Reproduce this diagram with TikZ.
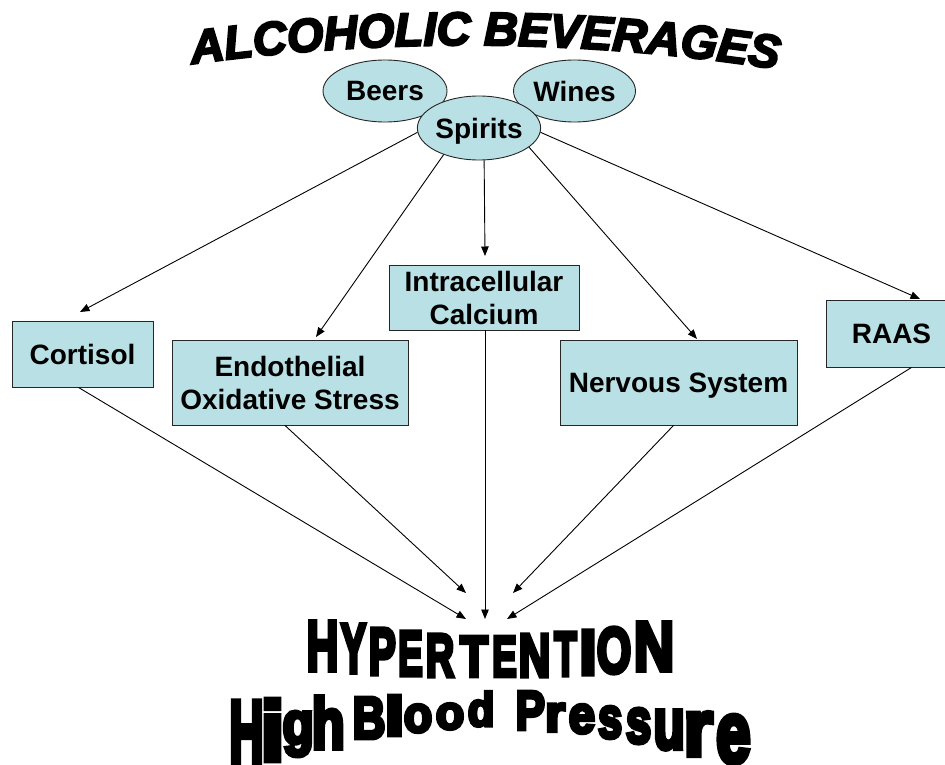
\documentclass[tikz,border=0pt]{standalone}
\usepackage{fontspec}
\usepackage{graphicx}
\setmainfont{Liberation Sans}
\newfontfamily\titlefont{Liberation Sans Bold Italic}[FakeBold=4.5]
\newfontfamily\impfont{Liberation Sans Bold}[FakeBold=7]
\usetikzlibrary{shapes.geometric,arrows.meta,decorations.text}
\definecolor{boxfill}{RGB}{185,224,228}
\newcommand\titlefmt{\titlefont\fontsize{47}{50}\selectfont}
\newcommand\inkglyph[1]{%
  \begingroup\impfont\fontsize{40}{40}\selectfont
  \setbox0=\hbox{#1}%
  \dimen0=\XeTeXglyphbounds1 \XeTeXcharglyph`#1\relax
  \dimen2=\XeTeXglyphbounds3 \XeTeXcharglyph`#1\relax
  \hbox{\kern-\dimen0\box0\kern-\dimen2}%
  \endgroup}
\def\cmpx{1.6}
\def\cmpy{1.6}
\newcommand\wl[5]{%
  \pgfmathsetmacro\wlw{#3-#2-2*\cmpx}%
  \pgfmathsetmacro\wlh{#5-#4-2*\cmpy}%
  \pgfmathsetmacro\wlx{#2+\cmpx}%
  \pgfmathsetmacro\wly{#5-\cmpy}%
  \node[inner sep=0pt, outer sep=0pt, anchor=south west] at (\wlx,\wly)
    {\resizebox*{\wlw pt}{\wlh pt}{\inkglyph{#1}}};}
\begin{document}
\begin{tikzpicture}[x=1pt,y=-1pt,
  box/.style={draw=black!85, line width=0.9pt, fill=boxfill, align=center,
    inner sep=0pt, text depth=0pt, font=\bfseries\fontsize{28}{33}\selectfont},
  ell/.style={ellipse, draw=black!85, line width=0.9pt, fill=boxfill,
    inner sep=0pt, text depth=0pt, font=\bfseries\fontsize{28}{32}\selectfont},
  arr/.style={-{Triangle[length=9.5pt,width=7.5pt]}, line width=0.9pt}]
\useasboundingbox (0,0) rectangle (945,765);
\fill[white] (0,0) rectangle (945,765);
\clip (0,0) rectangle (945,765);

% title
\path[decorate, decoration={text along path, text align=center,
  text={|\titlefmt|ALCOHOLIC BEVERAGES}}]
  (118.3,75.6) arc[start angle=-100, end angle=-79, radius=2011];

% ellipses
\node[ell, minimum width=124, minimum height=62] (beers) at (385,91) {Beers};
\node[ell, minimum width=122, minimum height=62] (wines) at (574.5,91) {Wines};
\node[ell, minimum width=122, minimum height=64] (spirits) at (479,128) {Spirits};

% boxes
\node[box, minimum width=141, minimum height=66] (cortisol) at (82.5,354) {Cortisol};
\node[box, minimum width=236, minimum height=85] (endo) at (290,382.5) {Endothelial\\Oxidative Stress};
\node[box, minimum width=190, minimum height=65] (intra) at (484,297.5) {Intracellular\\Calcium};
\node[box, minimum width=237, minimum height=85] (nerv) at (678.5,382.5) {Nervous System};
\node[box, minimum width=131, minimum height=67] (raas) at (891.5,333.5) {RAAS};

% arrow end points
\coordinate (sC) at (80,312);
\coordinate (sE) at (316,337);
\coordinate (sI) at (485,256);
\coordinate (sN) at (697,339);
\coordinate (sR) at (920,299);
\coordinate (tC) at (466,619);
\coordinate (tE) at (466,593);
\coordinate (tI) at (485,619);
\coordinate (tN) at (513,593);
\coordinate (tR) at (507,619);

\draw[arr] (spirits.184) -- (sC);
\draw[arr] (spirits.217) -- (sE);
\draw[arr] (spirits.279) -- (sI);
\draw[arr] (spirits.339) -- (sN);
\draw[arr] (spirits.356) -- (sR);

\draw[arr] ([xshift=-4]cortisol.south) -- (tC);
\draw[arr] ([xshift=-5]endo.south) -- (tE);
\draw[arr] ([xshift=1]intra.south) -- (tI);
\draw[arr] ([xshift=-5]nerv.south) -- (tN);
\draw[arr] ([xshift=20]raas.south) -- (tR);

% HYPERTENTION
\wl{H}{308}{337}{620}{672}
\wl{Y}{340}{367}{623}{674}
\wl{P}{370}{396}{627}{676}
\wl{E}{399}{423}{630}{677}
\wl{R}{427}{455}{633}{678}
\wl{T}{459}{489}{635}{678}
\wl{E}{493}{517}{635}{678}
\wl{N}{520}{549}{633}{678}
\wl{T}{553}{578}{631}{677}
\wl{I}{582}{594}{629}{676}
\wl{O}{597}{631}{626}{675}
\wl{N}{636}{672}{621}{672}

% High Blood Pressure
\wl{H}{231}{262}{700}{765}
\wl{i}{265}{280}{698}{762}
\wl{g}{283}{312}{710}{758}
\wl{h}{314}{343}{695}{750}
\wl{B}{354}{385}{696}{740}
\wl{l}{388}{401}{694}{737}
\wl{o}{404}{432}{703}{734}
\wl{o}{436}{464}{702}{731}
\wl{d}{468}{493}{690}{728}
\wl{P}{517}{545}{690}{731}
\wl{r}{547}{566}{702}{733}
\wl{e}{569}{595}{703}{735}
\wl{s}{598}{622}{705}{740}
\wl{s}{626}{651}{707}{745}
\wl{u}{655}{683}{709}{751}
\wl{r}{687}{713}{711}{757}
\wl{e}{717}{750}{714}{765}
\end{tikzpicture}
\end{document}
